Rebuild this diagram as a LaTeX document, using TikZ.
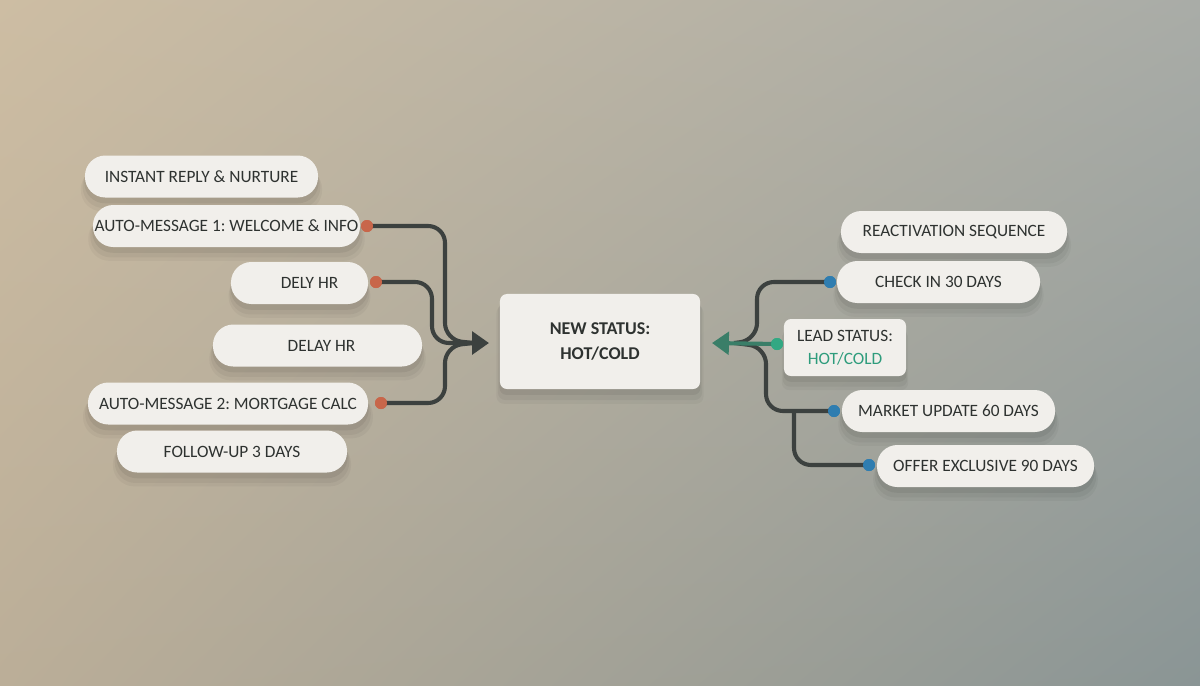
\documentclass[tikz,border=0pt]{standalone}
\usepackage{fontspec}
\setmainfont{Carlito}
\frenchspacing
\usetikzlibrary{arrows.meta,shadows,calc,shadings}
\definecolor{bgUL}{HTML}{CDBDA3}
\definecolor{bgUR}{HTML}{A9ACA7}
\definecolor{bgLL}{HTML}{BBAE98}
\definecolor{bgLR}{HTML}{8A9595}
\definecolor{pillfill}{HTML}{F1EFEB}
\definecolor{txt}{HTML}{2E3230}
\definecolor{linec}{HTML}{3C413F}
\definecolor{greenl}{HTML}{3A7E68}
\definecolor{greent}{HTML}{2E9C7C}
\definecolor{dotor}{HTML}{C8664A}
\definecolor{dotbl}{HTML}{2F7DB0}
\definecolor{dotgr}{HTML}{33A883}
\tikzset{
  softshadow/.style={
    general shadow={fill=black, opacity=0.035, shadow yshift=-9pt, shadow scale=1.035},
    general shadow={fill=black, opacity=0.045, shadow yshift=-7pt, shadow scale=1.02},
    general shadow={fill=black, opacity=0.06, shadow yshift=-4pt, shadow scale=1.005}},
  pill/.style={rectangle, fill=pillfill, rounded corners=14.5pt, minimum height=1.05cm,
    inner sep=0pt, text=txt, font=\fontsize{12.3}{14}\selectfont, softshadow},
  card/.style={rectangle, fill=pillfill, rounded corners=5pt, inner sep=0pt, text=txt, align=center, softshadow},
  dot/.style={circle, inner sep=0pt, minimum size=0.3cm},
  conn/.style={draw=linec, line width=2.9pt, rounded corners=12pt},
}
\begin{document}
\begin{tikzpicture}[x=0.025cm, y=-0.025cm]
\useasboundingbox (0,0) rectangle (1200,685);
\shade[upper left=bgUL, upper right=bgUR, lower left=bgLL, lower right=bgLR] (0,0) rectangle (1200,685);

% left nodes
\node[pill, minimum width=5.825cm] (i1) at (201.5,176.5) {INSTANT REPLY \& NURTURE};
\node[pill, minimum width=6.675cm] (a1) at (226.5,226) {AUTO-MESSAGE 1: WELCOME \& INFO};
\node[pill, minimum width=3.425cm] (d1) at (299.5,283) {\hspace{0.5cm}DELY HR};
\node[pill, minimum width=5.225cm] (d2) at (317.5,345.5) {\hspace{0.2cm}DELAY HR};
\node[pill, minimum width=7cm] (a2) at (228,403.5) {AUTO-MESSAGE 2: MORTGAGE CALC};
\node[pill, minimum width=5.75cm] (f1) at (232,451.5) {FOLLOW-UP 3 DAYS};

% center
\node[card, minimum width=5cm, minimum height=2.375cm, font=\bfseries\fontsize{12.8}{18}\selectfont] (ns) at (600,341.5) {NEW STATUS:\\HOT/COLD};

% right nodes
\node[pill, minimum width=5.65cm] (r1) at (954,232) {REACTIVATION SEQUENCE};
\node[pill, minimum width=5.075cm] (c1) at (938.5,282) {CHECK IN 30 DAYS};
\node[card, minimum width=3.05cm, minimum height=1.425cm, font=\fontsize{12.3}{16}\selectfont] (ls) at (845,347.5) {LEAD STATUS:\\\textcolor{greent}{HOT/COLD}};
\node[pill, minimum width=5.325cm] (m1) at (948.5,411) {MARKET UPDATE 60 DAYS};
\node[pill, minimum width=5.425cm] (o1) at (985.5,466) {OFFER EXCLUSIVE 90 DAYS};

% junction coordinates
\coordinate (lj) at (474,343);
\coordinate (lt) at (489,343);
\coordinate (rj) at (734,343);
\coordinate (rt) at (712,343);

% left connectors
\node[dot, fill=dotor] (a1d) at (367,226) {};
\node[dot, fill=dotor] (d1d) at (376,282) {};
\node[dot, fill=dotor] (a2d) at (381,403) {};
\draw[conn] (a1d.center) -- (445,226) -- (445,340) -- (lj);
\draw[conn] (d1d.center) -- (432,282) -- (432,343) -- (lj);
\draw[conn] (a2d.center) -- (445,403) -- (445,346) -- (lj);
\draw[draw=linec, line width=2.9pt, -{Triangle[length=12pt,width=16pt]}] (466,343) -- (lt);
\node[dot, fill=dotor] at (367,226) {};
\node[dot, fill=dotor] at (376,282) {};
\node[dot, fill=dotor] at (381,403) {};

% right connectors
\node[dot, fill=dotbl] (c1d) at (830,282) {};
\node[dot, fill=dotbl] (m1d) at (834,411) {};
\node[dot, fill=dotbl] (o1d) at (869,465) {};
\node[dot, fill=dotgr] (lsd) at (777,344) {};
\draw[conn] (c1d.center) -- (757,282) -- (757,340) -- (rj);
\draw[conn] (m1d.center) -- (766,411) -- (766,347) -- (rj);
\draw[conn] (o1d.center) -- (794,465) -- (794,411);
\draw[draw=greenl, line width=2.9pt, -{Triangle[length=12pt,width=16pt]}] (lsd.center) -- (rt);
\node[dot, fill=dotbl] at (830,282) {};
\node[dot, fill=dotbl] at (834,411) {};
\node[dot, fill=dotbl] at (869,465) {};
\node[dot, fill=dotgr] at (777,344) {};
\end{tikzpicture}
\end{document}
